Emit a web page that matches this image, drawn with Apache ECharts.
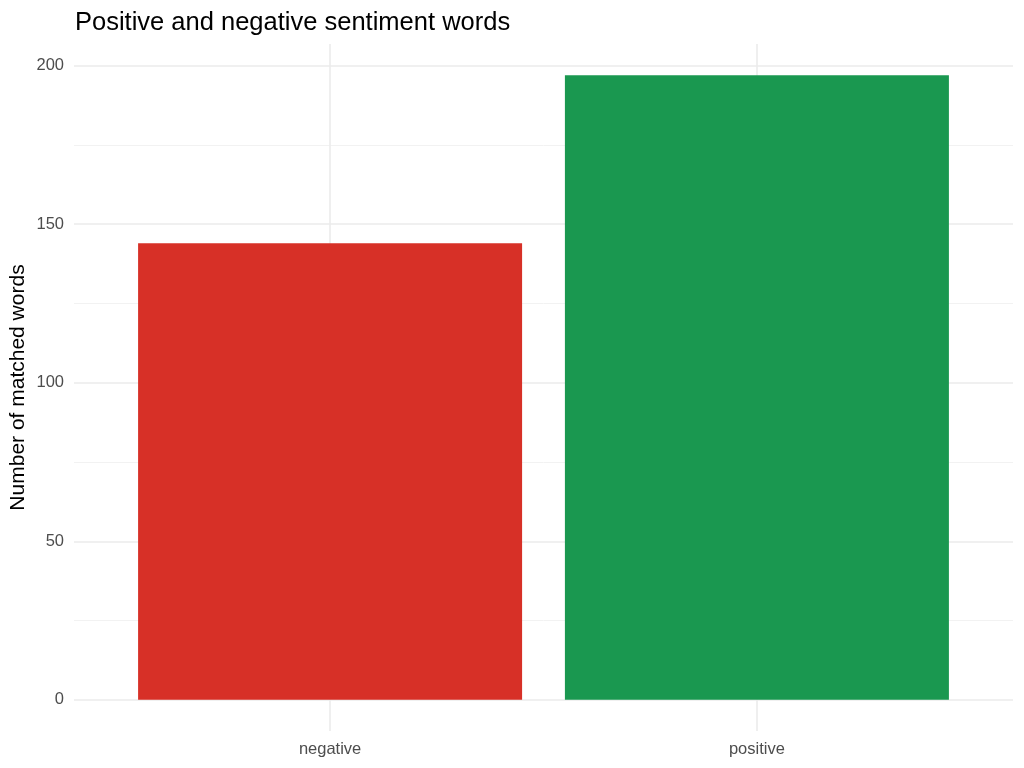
<!DOCTYPE html>
<html>
<head>
<meta charset="utf-8">
<script src="https://cdn.jsdelivr.net/npm/echarts@6/dist/echarts.min.js"></script>
<style>
  html, body { margin: 0; padding: 0; background: #fff; }
  #main { width: 1024px; height: 768px; }
</style>
</head>
<body>
<div id="main"></div>
<script>
var categories = ['negative', 'positive'];
var counts = [144, 197];
var barColors = ['#d73027', '#1a9850'];
var majorTicks = [0, 50, 100, 150, 200];
var minorTicks = [25, 75, 125, 175];

var chart = echarts.init(document.getElementById('main'));

// ggplot style expansion: 5% on y, 0.6 on discrete x
var yMin = -0.05 * 197, yMax = 197 * 1.05;
var xPos = categories.map(function (c, i) { return i + 1; });

var option = {
    backgroundColor: '#ffffff',
    animation: false,
    title: {
        text: 'Positive and negative sentiment words',
        left: 70,
        top: 5,
        textStyle: { color: '#000', fontSize: 25.5, fontWeight: 'normal', fontFamily: 'Liberation Sans' }
    },
    grid: { left: 74, right: 11, top: 44, bottom: 37, outerBoundsMode: 'none' },
    xAxis: {
        type: 'value',
        min: 0.4,
        max: categories.length + 0.6,
        axisLine: { show: false },
        axisTick: { show: false, customValues: xPos },
        axisLabel: {
            customValues: xPos,
            margin: 10,
            color: '#4d4d4d',
            fontSize: 16.5,
            fontFamily: 'Liberation Sans',
            formatter: function (v) { return categories[Math.round(v) - 1]; }
        },
        splitLine: { show: true, lineStyle: { color: '#ebebeb', width: 1.6 } }
    },
    yAxis: [{
        type: 'value',
        min: yMin,
        max: yMax,
        name: 'Number of matched words',
        nameLocation: 'middle',
        nameGap: 45,
        nameMoveOverlap: false,
        nameTextStyle: { color: '#000', fontSize: 21, fontFamily: 'Liberation Sans' },
        axisLine: { show: false },
        axisTick: { show: false, customValues: majorTicks },
        axisLabel: { customValues: majorTicks, margin: 10, color: '#4d4d4d', fontSize: 16.5, fontFamily: 'Liberation Sans' },
        splitLine: { show: true, lineStyle: { color: '#ebebeb', width: 1.6 } }
    }, {
        type: 'value',
        min: yMin,
        max: yMax,
        position: 'left',
        axisLine: { show: false },
        axisTick: { show: false, customValues: minorTicks },
        axisLabel: { show: false, customValues: minorTicks },
        splitLine: { show: true, lineStyle: { color: '#f2f2f2', width: 1 } }
    }],
    series: [{
        type: 'bar',
        barWidth: 384,
        data: counts.map(function (v, i) {
            return { value: [xPos[i], v], itemStyle: { color: barColors[i] } };
        }),
        z: 3
    }]
};

chart.setOption(option);
</script>
</body>
</html>
